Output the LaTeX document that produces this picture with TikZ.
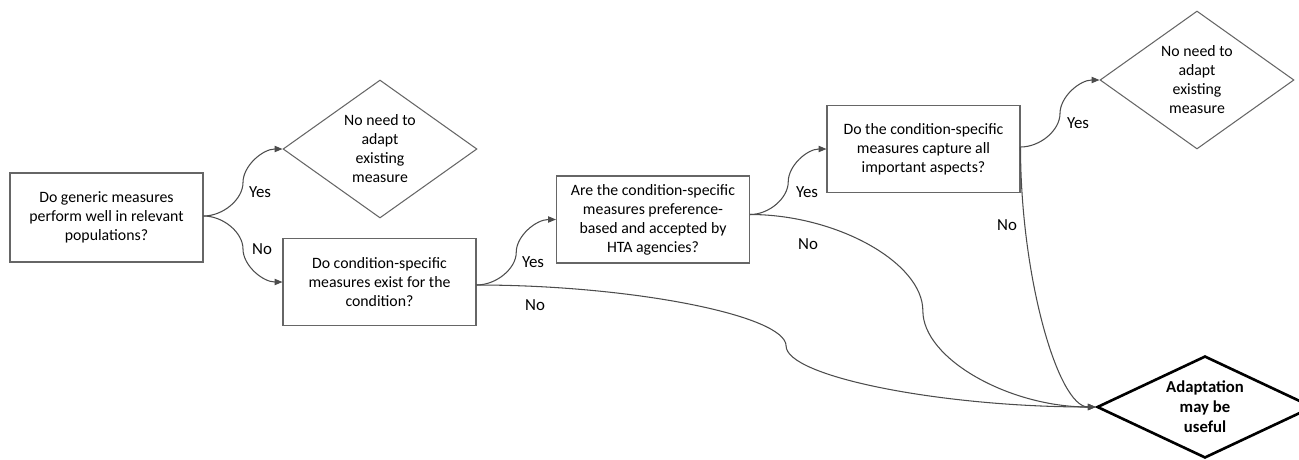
\documentclass[tikz,border=0pt]{standalone}
\usepackage{fontspec}
\setmainfont{Carlito}
\usetikzlibrary{arrows.meta,shapes.geometric,calc}
\begin{document}
\begin{tikzpicture}[x=0.02cm,y=-0.02cm,
  qbox/.style={draw=black!60,line width=0.6pt,rectangle,minimum width=3.86cm,minimum height=1.74cm,align=center,inner sep=0pt,font=\fontsize{9}{10.8}\selectfont},
  outdia/.style={draw=black!60,line width=0.6pt,diamond,aspect=1.4,minimum width=3.88cm,minimum height=2.76cm,align=center,inner sep=0pt,font=\fontsize{9}{10.8}\selectfont},
  enddia/.style={draw=black,line width=1.5pt,diamond,aspect=2.1,minimum width=4.32cm,minimum height=2.04cm,align=center,inner sep=0pt,font=\fontsize{9.5}{11.4}\selectfont\bfseries},
  lab/.style={inner sep=0pt,font=\fontsize{9.6}{11}\selectfont},
  conn/.style={draw=black!70,line width=0.6pt,-{Triangle[length=4.5pt,width=3.6pt]}},
  cc3/.style={to path={let \p1=(\tikztostart), \p2=(\tikztotarget) in
     .. controls ({(3*\x1+\x2)/4},\y1) and ({(\x1+\x2)/2},{(3*\y1+\y2)/4}) .. ({(\x1+\x2)/2},{(\y1+\y2)/2})
     .. controls ({(\x1+\x2)/2},{(\y1+3*\y2)/4}) and ({(\x1+3*\x2)/4},\y2) .. (\tikztotarget) \tikztonodes}},
  cc2/.style={to path={let \p1=(\tikztostart), \p2=(\tikztotarget) in
     .. controls (\x1,{(\y1+\y2)/2}) and ({(\x1+\x2)/2},\y2) .. (\tikztotarget) \tikztonodes}}
]
\clip (0,0) rectangle (1299,460);
\node[qbox,minimum height=1.78cm] (b1) at (106.5,217.5) {Do generic measures\\perform well in relevant\\populations?};
\node[qbox] (b2) at (379.5,282) {Do condition-specific\\measures exist for the\\condition?};
\node[qbox] (b3) at (653,219.5) {Are the condition-specific\\measures preference-\\based and accepted by\\HTA agencies?};
\node[qbox] (b4) at (923.5,149) {Do the condition-specific\\measures capture all\\important aspects?};
\node[outdia] (d1) at (380,149) {No need to\\adapt\\existing\\measure};
\node[outdia] (d2) at (1197,80) {No need to\\adapt\\existing\\measure};
\node[enddia] (d3) at (1205,407) {Adaptation\\may be\\useful};

\coordinate (s1) at ($(b1.east)+(0,-1.5)$);
\coordinate (s2) at ($(b2.east)+(0,3)$);
\coordinate (s3) at ($(b3.east)+(0,-5)$);
\coordinate (s4) at ($(b4.east)+(0,-2)$);

\draw[conn] (s1) to[cc3] (d1.west);
\draw[conn] (s1) to[cc3] (b2.west);
\draw[conn] (s2) to[cc3] (b3.west);
\draw[conn] (s2) to[cc3] (d3.west);
\draw[conn] (s3) to[cc3] (b4.west);
\draw[conn] (s3) to[cc3] (d3.west);
\draw[conn] (s4) to[cc3] (d2.west);
\draw[conn] (s4) to[cc2] (d3.west);

\node[lab] (y1) at (260,192) {Yes};
\node[lab] (n1) at (262,249) {No};
\node[lab] (y2) at (533,262) {Yes};
\node[lab] (n2) at (535,305) {No};
\node[lab] (y3) at (807,192) {Yes};
\node[lab] (n3) at (808,244) {No};
\node[lab] (y4) at (1078,123) {Yes};
\node[lab] (n4) at (1007,225) {No};
\end{tikzpicture}
\end{document}
